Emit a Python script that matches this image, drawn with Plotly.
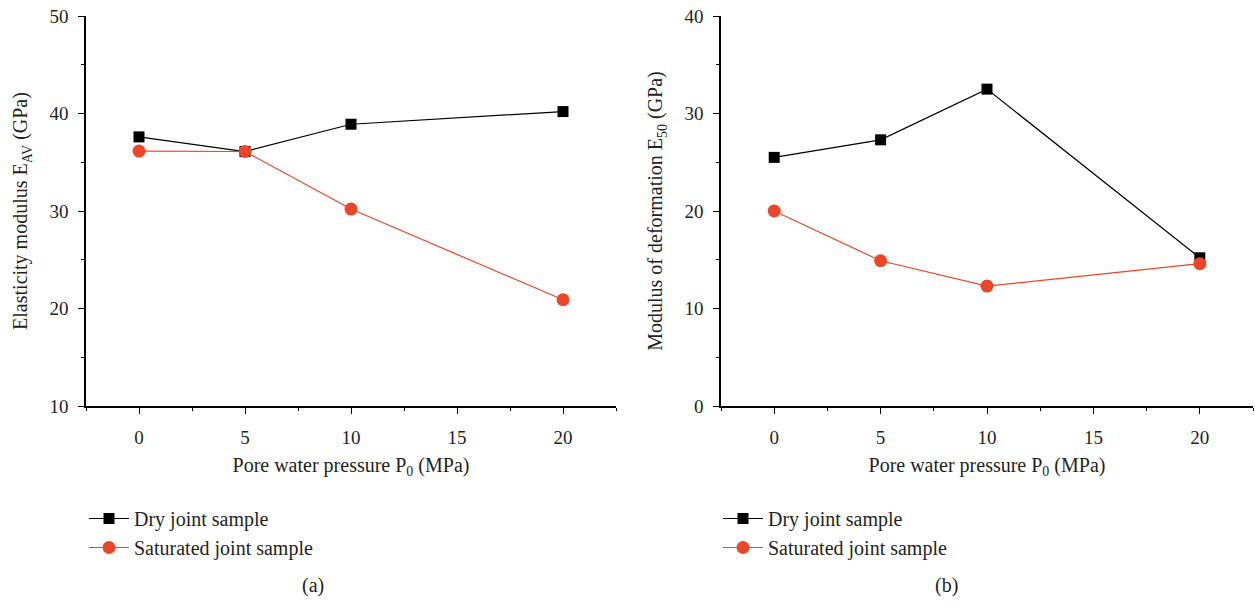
import plotly.graph_objects as go

pressure = [0, 5, 10, 20]
dry_eav = [37.6, 36.1, 38.9, 40.2]
sat_eav = [36.15, 36.1, 30.2, 20.9]
dry_e50 = [25.5, 27.3, 32.5, 15.2]
sat_e50 = [20.0, 14.9, 12.3, 14.6]

x_ticks = [0, 5, 10, 15, 20]
names = ["Dry joint sample", "Saturated joint sample"]

BLACK = "#000000"
RED = "#EE4428"
FONT = "Liberation Serif"
TXT = "#231F20"
TICK_FS = 19
TITLE_FS = 20
LEG_FS = 20

W, H = 1255, 608


def px(x):
    return x / W


def py(y):
    return 1 - y / H


fig = go.Figure()

# Panel (a)
fig.add_trace(go.Scatter(x=pressure, y=dry_eav, mode="lines+markers", name=names[0],
                         line=dict(color=BLACK, width=1.2),
                         marker=dict(symbol="square", size=11, color=BLACK),
                         xaxis="x", yaxis="y", legend="legend"))
fig.add_trace(go.Scatter(x=pressure, y=sat_eav, mode="lines+markers", name=names[1],
                         line=dict(color=RED, width=1.2),
                         marker=dict(symbol="circle", size=13, color=RED),
                         xaxis="x", yaxis="y", legend="legend"))
# Panel (b)
fig.add_trace(go.Scatter(x=pressure, y=dry_e50, mode="lines+markers", name=names[0],
                         line=dict(color=BLACK, width=1.2),
                         marker=dict(symbol="square", size=11, color=BLACK),
                         xaxis="x2", yaxis="y2", legend="legend2"))
fig.add_trace(go.Scatter(x=pressure, y=sat_e50, mode="lines+markers", name=names[1],
                         line=dict(color=RED, width=1.2),
                         marker=dict(symbol="circle", size=13, color=RED),
                         xaxis="x2", yaxis="y2", legend="legend2"))

base = dict(showline=True, linecolor=BLACK, linewidth=1.5, showgrid=False, zeroline=False,
            ticks="outside", ticklen=6, tickwidth=1.2, tickcolor=BLACK, automargin=False,
            tickfont=dict(family=FONT, size=TICK_FS, color=TXT))


def xaxis(domain, anchor):
    return dict(domain=domain, range=[-2.5, 22.5], tickvals=x_ticks, anchor=anchor,
                ticklabelstandoff=7,
                minor=dict(ticks="outside", ticklen=3, tickwidth=1.2, tickcolor=BLACK, dtick=2.5, tick0=0),
                title=dict(text="Pore water pressure P<sub>0</sub> (MPa)",
                           font=dict(family=FONT, size=TITLE_FS, color=TXT), standoff=11),
                **base)


def yaxis(rng, vals, title, anchor):
    return dict(domain=[py(406), py(16)], range=rng, tickvals=vals, anchor=anchor,
                ticklabelstandoff=6,
                minor=dict(ticks="outside", ticklen=3, tickwidth=1.2, tickcolor=BLACK, dtick=5, tick0=0),
                title=dict(text=title, font=dict(family=FONT, size=TITLE_FS, color=TXT), standoff=16),
                **base)


fig.update_layout(
    width=W, height=H,
    margin=dict(l=0, r=0, t=0, b=0, autoexpand=False),
    paper_bgcolor="white", plot_bgcolor="white",
    showlegend=True,
    xaxis=xaxis([px(86), px(616)], "y"),
    yaxis=yaxis([10, 50], [10, 20, 30, 40, 50], "Elasticity modulus E<sub>AV</sub> (GPa)", "x"),
    xaxis2=xaxis([px(721), px(1253)], "y2"),
    yaxis2=yaxis([0, 40], [0, 10, 20, 30, 40], "Modulus of deformation E<sub>50</sub> (GPa)", "x2"),
    legend=dict(x=px(84), y=py(499), xanchor="left", yanchor="top", bgcolor="rgba(0,0,0,0)",
                font=dict(family=FONT, size=LEG_FS, color=TXT), tracegroupgap=0, itemwidth=40),
    legend2=dict(x=px(718), y=py(499), xanchor="left", yanchor="top", bgcolor="rgba(0,0,0,0)",
                 font=dict(family=FONT, size=LEG_FS, color=TXT), tracegroupgap=0, itemwidth=40),
    annotations=[
        dict(text="(a)", x=px(313), y=py(585), xref="paper", yref="paper", showarrow=False,
             xanchor="center", yanchor="middle",
             font=dict(family=FONT, size=TITLE_FS, color=TXT)),
        dict(text="(b)", x=px(946), y=py(585), xref="paper", yref="paper", showarrow=False,
             xanchor="center", yanchor="middle",
             font=dict(family=FONT, size=TITLE_FS, color=TXT)),
    ],
)

fig.write_html("out.html")
